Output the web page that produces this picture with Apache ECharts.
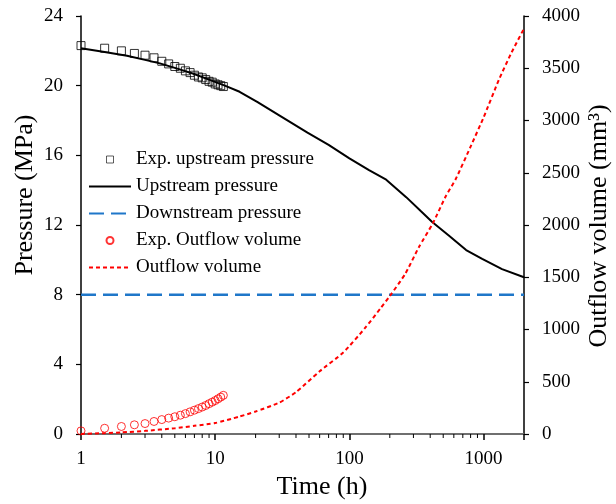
<!DOCTYPE html>
<html>
<head>
<meta charset="utf-8">
<script src="https://cdn.jsdelivr.net/npm/echarts@6/dist/echarts.min.js"></script>
<style>html,body{margin:0;padding:0;background:#fff}#c{width:616px;height:504px}</style>
</head>
<body>
<div id="c"></div>
<script>
// ---- data ----
const timeExp = [1,1.5,2,2.5,3,3.5,4,4.5,5,5.5,6,6.5,7,7.5,8,8.5,9,9.5,10,10.5,11,11.5];
const upstreamExp = [22.3,22.15,22.0,21.85,21.75,21.6,21.4,21.25,21.1,21.0,20.85,20.75,20.6,20.5,20.45,20.35,20.25,20.2,20.1,20.05,20.0,19.95];
const outflowExp = [30,55,72,88,100,120,138,152,165,180,195,212,228,243,258,273,290,305,320,337,353,370];

const timeUp = [1,1.5,2.2,3,3.87,5,6.8,9,11.8,15.2,20.7,30,48.7,70,100,140,188,265,340,414,550,741,976,1372,2000];
const upstreamSim = [22.15,21.93,21.72,21.48,21.28,21.02,20.7,20.35,20.0,19.65,19.06,18.3,17.3,16.6,15.83,15.15,14.6,13.6,12.8,12.17,11.4,10.56,10.05,9.47,9.0];

const timeDown = [1,2000];
const downstreamSim = [8,8];

const timeOut = [1,1.5,2,3,5,7,10,15,20,30,40,60,90,130,170,200,260,330,420,520,620,800,1000,1300,1600,2000];
const outflowSim = [0,8,15,30,55,78,105,165,215,300,400,600,780,1010,1200,1320,1530,1790,2020,2270,2440,2750,3030,3390,3640,3880];

const xMinorTicks = [2,3,4,5,6,7,8,9,20,30,40,50,60,70,80,90,200,300,400,500,600,700,800,900];
const legendNames = ['Exp. upstream pressure','Upstream pressure','Downstream pressure','Exp. Outflow volume','Outflow volume'];

// ---- chart ----
const FONT = "'Liberation Serif','Times New Roman',serif";
const zip = (a, b) => a.map((v, i) => [v, b[i]]);
const chart = echarts.init(document.getElementById('c'), null, {renderer: 'canvas'});

const legendData = [
  {name: legendNames[0], icon: 'path://M0,0L10,0L10,10L0,10Z',
   itemStyle: {color: 'rgba(255,255,255,0)', borderColor: '#000', borderWidth: 0.8}},
  {name: legendNames[1], itemStyle: {opacity: 0}},
  {name: legendNames[2], itemStyle: {opacity: 0}},
  {name: legendNames[3]},
  {name: legendNames[4], itemStyle: {opacity: 0}}
];

chart.setOption({
  animation: false,
  backgroundColor: '#fff',
  grid: {left: 81, right: 92, top: 16, bottom: 70, containLabel: false},
  legend: {
    orient: 'vertical', left: 88, top: 150, padding: 0,
    itemWidth: 42, itemHeight: 7, itemGap: 8,
    symbolKeepAspect: true,
    textStyle: {fontFamily: FONT, fontSize: 19, color: '#000', lineHeight: 19},
    data: legendData
  },
  xAxis: [{
    type: 'log', logBase: 10, min: 1, max: 2000, position: 'bottom',
    axisLine: {lineStyle: {color: '#000', width: 1.5}},
    axisTick: {show: true, length: 6, lineStyle: {color: '#000', width: 1.5}},
    minorTick: {show: false},
    splitLine: {show: false},
    axisLabel: {
      fontFamily: FONT, fontSize: 19, color: '#000', margin: 16,
      formatter: function (v) {
        const l = Math.log10(v);
        return Math.abs(l - Math.round(l)) < 1e-6 ? String(Math.round(v)) : '';
      }
    }
  }, {
    type: 'log', logBase: 10, min: 1, max: 2000, position: 'top',
    axisLine: {show: true, lineStyle: {color: '#808080', width: 1.5}},
    axisTick: {show: false}, axisLabel: {show: false}, splitLine: {show: false}
  }],
  yAxis: [{
    type: 'value', min: 0, max: 24, interval: 4, position: 'left',
    axisLine: {show: true, lineStyle: {color: '#000', width: 1.5}},
    axisTick: {show: true, length: 5, lineStyle: {color: '#000', width: 1.2}},
    splitLine: {show: false},
    axisLabel: {fontFamily: FONT, fontSize: 19, color: '#000', margin: 18}
  }, {
    type: 'value', min: 0, max: 4000, interval: 500, position: 'right',
    axisLine: {show: true, lineStyle: {color: '#000', width: 1.5}},
    axisTick: {show: true, length: 5, lineStyle: {color: '#000', width: 1.2}},
    splitLine: {show: false},
    axisLabel: {fontFamily: FONT, fontSize: 19, color: '#000', margin: 18,
      formatter: function (v) { return String(v); }}
  }],
  graphic: [
    {type: 'text', x: 322, y: 487, style: {text: 'Time (h)', font: '26px ' + FONT, fill: '#000', align: 'center', verticalAlign: 'middle'}},
    {type: 'text', x: 25, y: 195, rotation: Math.PI / 2, style: {text: 'Pressure (MPa)', font: '26px ' + FONT, fill: '#000', align: 'center', verticalAlign: 'middle'}},
    {type: 'text', x: 599, y: 226, rotation: Math.PI / 2, style: {text: 'Outflow volume (mm³)', font: '26px ' + FONT, fill: '#000', align: 'center', verticalAlign: 'middle'}}
  ],
  series: [
    {
      name: 'Upstream pressure', type: 'line', xAxisIndex: 0, yAxisIndex: 0,
      data: zip(timeUp, upstreamSim), symbol: 'none', smooth: false,
      lineStyle: {color: '#000', width: 2}, itemStyle: {color: '#000'}, z: 3
    },
    {
      name: 'Exp. upstream pressure', type: 'scatter', xAxisIndex: 0, yAxisIndex: 0,
      data: zip(timeExp, upstreamExp), symbol: 'rect', symbolSize: 8,
      itemStyle: {color: 'rgba(255,255,255,0)', borderColor: '#000', borderWidth: 1}, z: 4
    },
    {
      name: 'Downstream pressure', type: 'line', xAxisIndex: 0, yAxisIndex: 0,
      data: zip(timeDown, downstreamSim), symbol: 'none',
      lineStyle: {color: '#1f77c9', width: 2.5, type: [15, 7]}, itemStyle: {color: '#1f77c9'}, z: 3
    },
    {
      name: 'Exp. Outflow volume', type: 'scatter', xAxisIndex: 0, yAxisIndex: 1,
      data: zip(timeExp, outflowExp), symbol: 'circle', symbolSize: 8,
      itemStyle: {color: 'rgba(255,255,255,0)', borderColor: '#ff0000', borderWidth: 1}, z: 4
    },
    {
      name: 'Outflow volume', type: 'line', xAxisIndex: 0, yAxisIndex: 1,
      data: zip(timeOut, outflowSim), symbol: 'none', smooth: 0.2,
      lineStyle: {color: '#ff0000', width: 2, type: [4, 3]}, itemStyle: {color: '#ff0000'}, z: 3
    },
    {
      name: 'minorTicks', type: 'custom', xAxisIndex: 0, yAxisIndex: 0, silent: true,
      data: xMinorTicks.map(t => [t, 0]),
      renderItem: function (params, api) {
        const p = api.coord([api.value(0), 0]);
        return {type: 'line', shape: {x1: p[0], y1: p[1], x2: p[0], y2: p[1] + 4},
                style: {stroke: '#000', lineWidth: 1}};
      },
      z: 5
    }
  ]
});
</script>
</body>
</html>
